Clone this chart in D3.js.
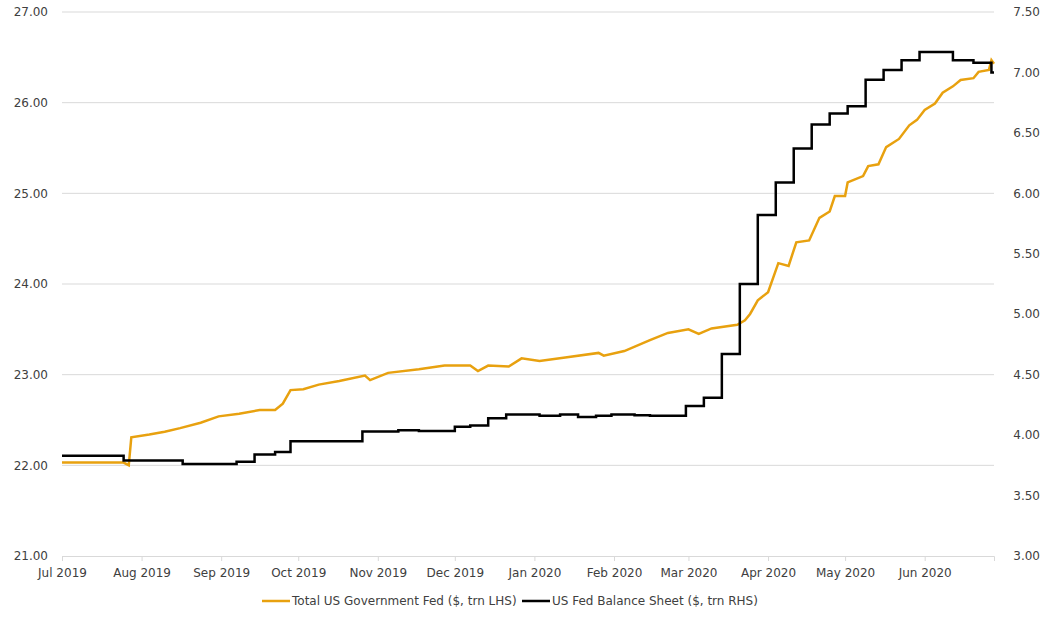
<!DOCTYPE html>
<html>
<head>
<meta charset="utf-8">
<script src="https://cdn.jsdelivr.net/npm/d3@7"></script>
<style>
  body { margin: 0; background: #fff; }
  text { font-family: "DejaVu Sans", sans-serif; fill: #404040; }
</style>
</head>
<body>
<div class="graph"></div>
<script>
// Days since 1 Jul 2019
const startDate = new Date(2019, 6, 1);

const govDays = [0, 24, 26, 27, 34, 40, 46, 54, 61, 69, 77, 83, 86, 89, 94, 100, 108, 118, 120, 127, 139, 149, 159, 162, 166, 174, 179, 186, 196, 209, 211, 219, 229, 236, 244, 248, 253, 263, 266, 268, 271, 275, 279, 283, 286, 291, 295, 299, 301, 305, 306, 312, 314, 318, 321, 326, 330, 333, 336, 340, 343, 347, 350, 355, 357, 361, 362, 363];
const govValues = [22.03, 22.03, 22.00, 22.31, 22.34, 22.37, 22.41, 22.47, 22.54, 22.57, 22.61, 22.61, 22.68, 22.83, 22.84, 22.89, 22.93, 22.99, 22.94, 23.02, 23.06, 23.10, 23.10, 23.04, 23.10, 23.09, 23.18, 23.15, 23.19, 23.24, 23.21, 23.26, 23.38, 23.46, 23.50, 23.45, 23.51, 23.55, 23.60, 23.67, 23.82, 23.91, 24.23, 24.20, 24.46, 24.48, 24.73, 24.80, 24.97, 24.97, 25.12, 25.19, 25.30, 25.32, 25.51, 25.60, 25.75, 25.81, 25.92, 25.99, 26.11, 26.18, 26.25, 26.27, 26.34, 26.36, 26.47, 26.43];

const fedDays = [0, 24, 47, 68, 75, 83, 89, 117, 131, 139, 153, 159, 166, 173, 186, 194, 201, 208, 214, 223, 229, 236, 243, 250, 257, 264, 271, 278, 285, 292, 299, 306, 313, 320, 327, 334, 347, 355, 362, 363];
const fedValues = [3.83, 3.79, 3.76, 3.78, 3.84, 3.86, 3.95, 4.03, 4.04, 4.035, 4.07, 4.08, 4.14, 4.17, 4.16, 4.17, 4.15, 4.16, 4.17, 4.165, 4.16, 4.16, 4.24, 4.31, 4.67, 5.25, 5.82, 6.09, 6.37, 6.57, 6.66, 6.72, 6.94, 7.02, 7.10, 7.17, 7.10, 7.08, 7.00, 7.00];

const leftTicks = [21, 22, 23, 24, 25, 26, 27];
const rightTicks = [3.0, 3.5, 4.0, 4.5, 5.0, 5.5, 6.0, 6.5, 7.0, 7.5];
const legendLabels = ['Total US Government Fed ($, trn LHS)', 'US Fed Balance Sheet ($, trn RHS)'];
const colors = ['#E8A10F', '#000000'];

const width = 1050, height = 619;
const margin = { left: 62, right: 56, top: 12, bottom: 63 };

const svg = d3.select('.graph').append('svg')
  .attr('width', width).attr('height', height);

const x = d3.scaleTime()
  .domain([startDate, d3.timeDay.offset(startDate, 363)])
  .range([margin.left, width - margin.right]);
const yL = d3.scaleLinear().domain([21, 27]).range([height - margin.bottom, margin.top]);
const yR = d3.scaleLinear().domain([3, 7.5]).range([height - margin.bottom, margin.top]);

// Gridlines
svg.append('g').selectAll('line').data(leftTicks.slice(1)).enter().append('line')
  .attr('x1', margin.left).attr('x2', width - margin.right)
  .attr('y1', d => yL(d)).attr('y2', d => yL(d))
  .attr('stroke', '#d9d9d9').attr('stroke-width', 1);

// Left axis labels
svg.append('g').selectAll('text').data(leftTicks).enter().append('text')
  .attr('x', 48).attr('y', d => yL(d)).attr('dy', '0.35em')
  .attr('text-anchor', 'end').attr('font-size', '12px')
  .text(d => d.toFixed(2));

// Right axis labels
svg.append('g').selectAll('text').data(rightTicks).enter().append('text')
  .attr('x', width - 10).attr('y', d => yR(d)).attr('dy', '0.35em')
  .attr('text-anchor', 'end').attr('font-size', '12px')
  .text(d => d.toFixed(2));

// Bottom axis
const months = d3.timeMonth.range(startDate, d3.timeDay.offset(startDate, 364));
const xAxis = svg.append('g')
  .attr('transform', `translate(0,${height - margin.bottom})`)
  .call(d3.axisBottom(x).tickValues(months).tickSize(5).tickFormat(d3.timeFormat('%b %Y')));
xAxis.select('.domain').attr('stroke', '#d9d9d9');
xAxis.selectAll('.tick line').attr('stroke', '#d9d9d9');
xAxis.selectAll('.tick text').attr('font-size', '12px').attr('fill', '#404040')
  .attr('dy', '1.1em').style('font-family', '"DejaVu Sans", sans-serif');

// Lines
const govData = govDays.map((d, i) => ({ date: d3.timeDay.offset(startDate, d), value: govValues[i] }));
const fedData = fedDays.map((d, i) => ({ date: d3.timeDay.offset(startDate, d), value: fedValues[i] }));

svg.append('path').datum(govData)
  .attr('fill', 'none').attr('stroke', colors[0]).attr('stroke-width', 2.5)
  .attr('d', d3.line().x(d => x(d.date)).y(d => yL(d.value)));

svg.append('path').datum(fedData)
  .attr('fill', 'none').attr('stroke', colors[1]).attr('stroke-width', 2.5)
  .attr('d', d3.line().curve(d3.curveStepAfter).x(d => x(d.date)).y(d => yR(d.value)));

// Legend
const legendX = [262, 522];
const legend = svg.append('g').attr('class', 'legend');
legendLabels.forEach((label, i) => {
  legend.append('line')
    .attr('x1', legendX[i]).attr('x2', legendX[i] + 28)
    .attr('y1', 601).attr('y2', 601)
    .attr('stroke', colors[i]).attr('stroke-width', 2.5);
  legend.append('text')
    .attr('x', legendX[i] + 30).attr('y', 601).attr('dy', '0.35em')
    .attr('font-size', '12px').text(label);
});
</script>
</body>
</html>
